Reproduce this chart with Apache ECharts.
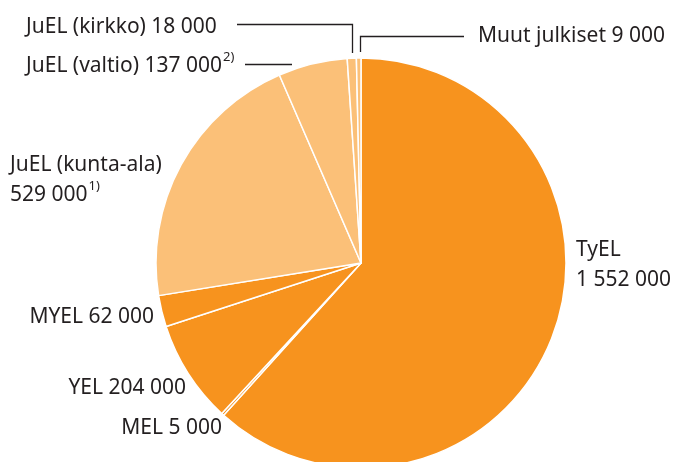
<!DOCTYPE html>
<html>
<head>
<meta charset="utf-8">
<script src="https://cdn.jsdelivr.net/npm/echarts@6/dist/echarts.min.js"></script>
<style>html,body{margin:0;padding:0;background:#fff}#c{width:680px;height:462px}</style>
</head>
<body>
<div id="c"></div>
<script>
const names = ['TyEL', 'MEL', 'YEL', 'MYEL', 'JuEL (kunta-ala)', 'JuEL (valtio)', 'JuEL (kirkko)', 'Muut julkiset'];
const values = [1552000, 5000, 204000, 62000, 529000, 137000, 18000, 9000];
const notes = ['', '', '', '', '1)', '2)', '', ''];

const DARK = '#F7931E';
const LIGHT = '#FBC078';
const colors = [DARK, DARK, DARK, DARK, LIGHT, LIGHT, LIGHT, LIGHT];

function fmt(v) {
  return String(v).replace(/\B(?=(\d{3})+(?!\d))/g, ' ');
}

// label placement (annotation layout)
const labelPos = [
  {x: 576, y: 265, align: 'left'},
  {x: 222, y: 428, align: 'right'},
  {x: 186, y: 388, align: 'right'},
  {x: 154, y: 317, align: 'right'},
  {x: 10, y: 180, align: 'left'},
  {x: 26, y: 66, align: 'left'},
  {x: 26, y: 27, align: 'left'},
  {x: 478, y: 36, align: 'left'}
];
const twoLine = [true, false, false, false, true, false, false, false];

const chart = echarts.init(document.getElementById('c'), null, {renderer: 'canvas'});
const lineStyle = {stroke: '#231F20', lineWidth: 1.3, fill: null};
chart.setOption({
  animation: false,
  textStyle: {fontFamily: 'Noto Sans'},
  series: [{
    type: 'pie',
    center: [361, 263],
    radius: [0, 205],
    startAngle: 90,
    clockwise: true,
    avoidLabelOverlap: false,
    itemStyle: {borderColor: '#fff', borderWidth: 1.5},
    label: {
      show: true,
      color: '#231F20',
      fontSize: 21,
      lineHeight: 30,
      fontFamily: 'Noto Sans',
      formatter: function (p) {
        const i = p.dataIndex;
        const sep = twoLine[i] ? '\n' : ' ';
        let s = '{t|' + names[i] + sep + fmt(values[i]) + '}';
        if (notes[i]) s += '{s|' + notes[i] + '}';
        return s;
      },
      rich: {
        t: {fontSize: 21, lineHeight: 30, color: '#231F20', fontFamily: 'Noto Sans'},
        s: {fontSize: 13, lineHeight: 18, color: '#231F20', verticalAlign: 'top', padding: [0, 0, 12, 1], fontFamily: 'Noto Sans'}
      }
    },
    labelLine: {show: false},
    labelLayout: function (params) {
      const p = labelPos[params.dataIndex];
      return {x: p.x, y: p.y, align: p.align, verticalAlign: 'middle'};
    },
    data: names.map((n, i) => ({name: n, value: values[i], itemStyle: {color: colors[i]}}))
  }],
  graphic: [
    {type: 'polyline', shape: {points: [[237, 24.5], [352.5, 24.5], [352.5, 53]]}, style: lineStyle, z: 10},
    {type: 'polyline', shape: {points: [[245, 64.5], [292, 64.5]]}, style: lineStyle, z: 10},
    {type: 'polyline', shape: {points: [[464, 36.5], [360.5, 36.5], [360.5, 52]]}, style: lineStyle, z: 10}
  ]
});
</script>
</body>
</html>
